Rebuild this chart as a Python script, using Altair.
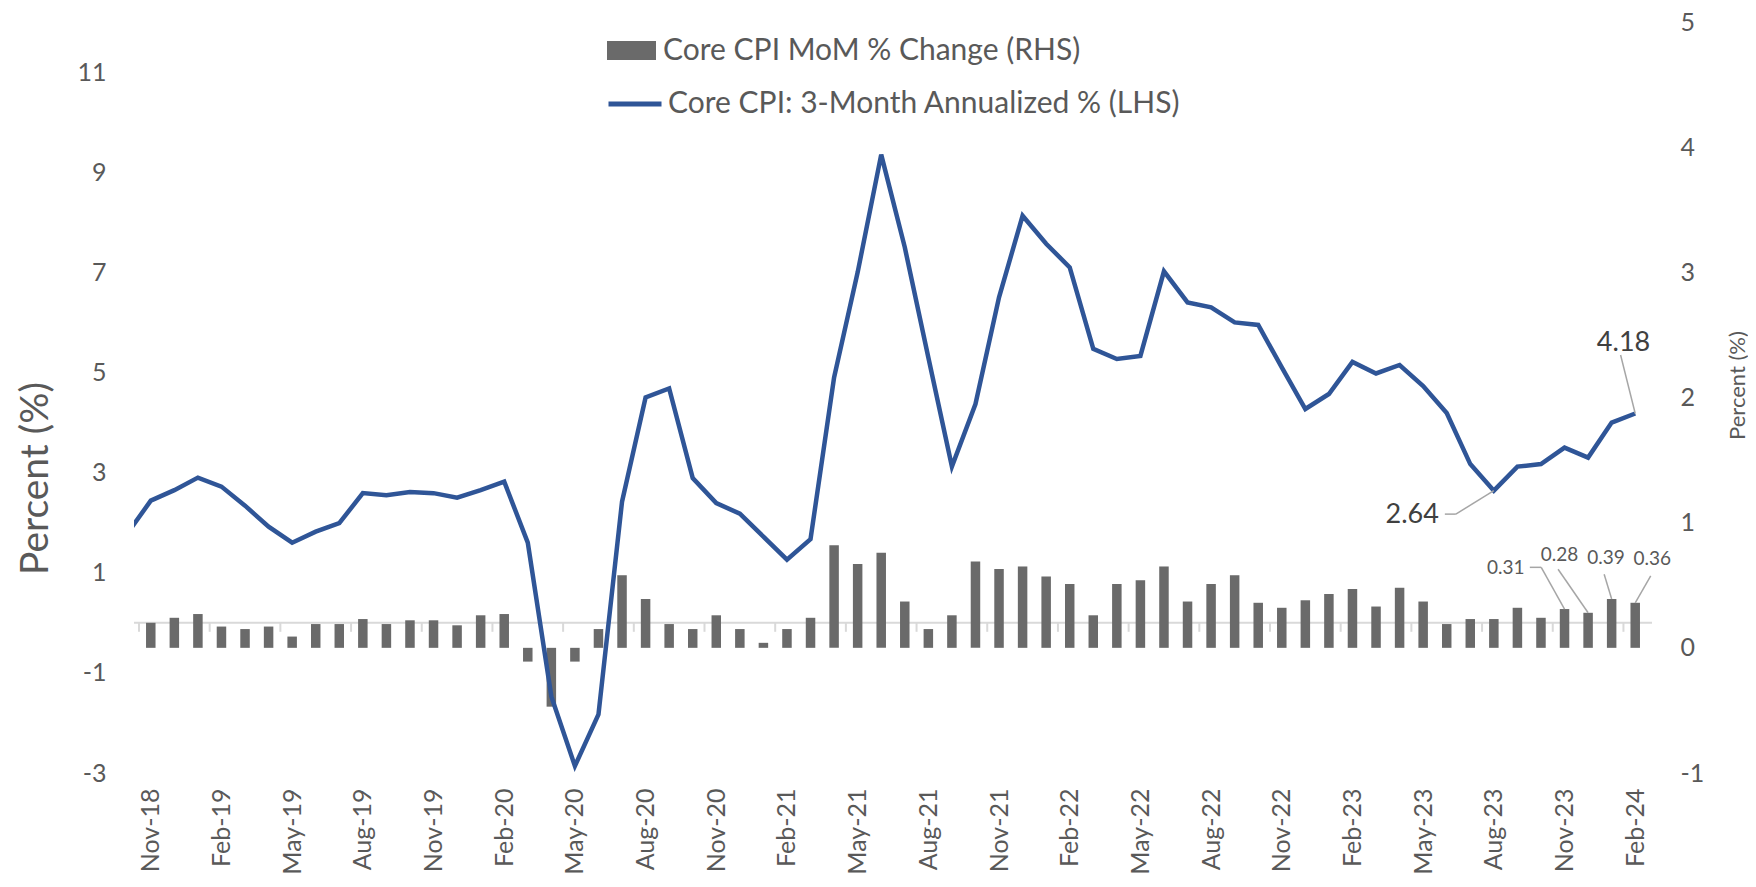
import json
import altair as alt
import pandas as pd

# ---------------- data ----------------
MONTHS = list(pd.date_range("2018-11-01", periods=64, freq="MS").strftime("%b-%y"))
PRE_MONTH = "Oct-18"          # previous month, only its segment toward Nov-18 is visible
PRE_LINE_VALUE = 1.78

BAR_NAME = "Core CPI MoM % Change (RHS)"
LINE_NAME = "Core CPI: 3-Month Annualized % (LHS)"

MOM = [0.20, 0.24, 0.27, 0.17, 0.15, 0.17, 0.09, 0.19, 0.19, 0.23, 0.19, 0.22, 0.22, 0.18, 0.26, 0.27,
       -0.11, -0.47, -0.11, 0.15, 0.58, 0.39, 0.19, 0.15, 0.26, 0.15, 0.04, 0.15, 0.24, 0.82, 0.67, 0.76,
       0.37, 0.15, 0.26, 0.69, 0.63, 0.65, 0.57, 0.51, 0.26, 0.51, 0.54, 0.65, 0.37, 0.51, 0.58, 0.36,
       0.32, 0.38, 0.43, 0.47, 0.33, 0.48, 0.37, 0.19, 0.23, 0.23, 0.32, 0.24, 0.31, 0.28, 0.39, 0.36]

CPI3M = [2.44, 2.65, 2.90, 2.72, 2.34, 1.92, 1.60, 1.82, 1.99, 2.59, 2.55, 2.61, 2.59, 2.50, 2.65, 2.82,
         1.60, -1.47, -2.86, -1.83, 2.42, 4.50, 4.68, 2.89, 2.39, 2.18, 1.72, 1.26, 1.67, 4.90, 7.00, 9.35,
         7.50, 5.30, 3.12, 4.37, 6.50, 8.13, 7.57, 7.10, 5.47, 5.27, 5.33, 7.02, 6.40, 6.30, 6.00, 5.95,
         5.10, 4.27, 4.57, 5.21, 4.98, 5.15, 4.73, 4.19, 3.17, 2.64, 3.12, 3.17, 3.50, 3.30, 4.00, 4.18]

TICK_LABELS = MONTHS[::3]
LEFT_TICKS = [-3, -1, 1, 3, 5, 7, 9, 11]
RIGHT_TICKS = [-1, 0, 1, 2, 3, 4, 5]

bars_df = pd.DataFrame({"i": list(range(64)), "month": MONTHS, "mom": MOM,
                        "zero": 0.0, "series": BAR_NAME})
line_df = pd.DataFrame({"i": list(range(-1, 64)), "month": [PRE_MONTH] + MONTHS,
                        "cpi": [PRE_LINE_VALUE] + CPI3M, "series": LINE_NAME})
zero_df = pd.DataFrame({"v": [0.0]})
ticks_df = pd.DataFrame({"i": [k * 3 - 0.5 for k in range(22)], "v": 0.0})

# ---------------- style ----------------
FONT = "Lato"
GRAY_TXT = "#595959"
BAR_COLOR = "#6A6A6A"
LINE_COLOR = "#2F5597"
LEADER = "#A6A6A6"

X_SCALE = alt.Scale(domain=[-0.5, 63.5], nice=False, zero=False)
LEFT = alt.Scale(domain=[-3, 12], nice=False, zero=False)
RIGHT = alt.Scale(domain=[-1, 5], nice=False, zero=False)

x_axis = alt.Axis(values=list(range(0, 64, 3)),
                  labelExpr=json.dumps(TICK_LABELS) + "[round(datum.value / 3)]",
                  labelAngle=270, labelAlign="right", labelBaseline="middle",
                  labelFontSize=25, labelColor=GRAY_TXT, labelFont=FONT, labelPadding=15,
                  labelOverlap=False, domain=False, ticks=False, grid=False, title=None)


def X(field="i"):
    return alt.X(f"{field}:Q", scale=X_SCALE, axis=x_axis, title=None)


left_axis = alt.Axis(values=LEFT_TICKS, labelExpr="'' + datum.value",
                     domain=False, ticks=False, grid=False,
                     labelFontSize=25, labelColor=GRAY_TXT, labelFont=FONT, labelPadding=28,
                     title="Percent (%)", titleFontSize=39, titleFontWeight="normal",
                     titleColor=GRAY_TXT, titleFont=FONT, titleAngle=270,
                     titleX=-99, titleY=456, titleAlign="center", titleBaseline="middle")

right_axis = alt.Axis(orient="right", values=RIGHT_TICKS, labelExpr="'' + datum.value",
                      domain=False, ticks=False, grid=False,
                      labelFontSize=25, labelColor=GRAY_TXT, labelFont=FONT, labelPadding=28,
                      title="Percent (%)", titleFontSize=22, titleFontWeight="normal",
                      titleColor=GRAY_TXT, titleFont=FONT, titleAngle=270,
                      titleX=85, titleY=363, titleAlign="center", titleBaseline="middle")

# ---------------- layers ----------------
zero_line = alt.Chart(zero_df).mark_rule(color="#D9D9D9", strokeWidth=2).encode(
    y=alt.Y("v:Q", scale=LEFT, axis=None))

ticks = alt.Chart(ticks_df).mark_rule(color="#D9D9D9", strokeWidth=2, y2Offset=9).encode(
    x=X(), y=alt.Y("v:Q", scale=LEFT, axis=None), y2="v:Q")

bars = alt.Chart(bars_df).mark_bar(size=9.5).encode(
    x=X(),
    y=alt.Y("mom:Q", scale=RIGHT, axis=right_axis),
    y2="zero:Q",
    fill=alt.Fill("series:N", scale=alt.Scale(domain=[BAR_NAME], range=[BAR_COLOR]),
                  legend=alt.Legend(orient="none", legendX=473, legendY=4, title=None,
                                    symbolType="M-1,-0.39H1V0.39H-1Z", symbolSize=2401,
                                    symbolStrokeWidth=0, labelFontSize=30, labelFont=FONT,
                                    labelColor=GRAY_TXT, labelOffset=7, padding=0,
                                    labelLimit=0)),
)

line = alt.Chart(line_df).mark_line(strokeWidth=4.5, clip=True).encode(
    x=X(),
    y=alt.Y("cpi:Q", scale=LEFT, axis=left_axis),
    stroke=alt.Stroke("series:N", scale=alt.Scale(domain=[LINE_NAME], range=[LINE_COLOR]),
                      legend=alt.Legend(orient="none", legendX=472, legendY=53, title=None,
                                        symbolType="stroke", symbolSize=2809,
                                        symbolStrokeWidth=5, labelFontSize=30, labelFont=FONT,
                                        labelColor=GRAY_TXT, labelOffset=4, padding=0,
                                        labelLimit=0)),
)


def leader(df, idx, field, scale, segs):
    out = []
    for (a, b, c, d) in segs:
        out.append(alt.Chart(df).transform_filter(alt.datum.i == idx).mark_rule(
            color=LEADER, strokeWidth=1.5, xOffset=a, yOffset=b, x2Offset=c, y2Offset=d).encode(
            x=X(), y=alt.Y(f"{field}:Q", scale=scale, axis=None),
            x2=alt.X2("i:Q"), y2=alt.Y2(f"{field}:Q")))
    return out


def label(df, idx, field, scale, dx, dy, align, size, color):
    return alt.Chart(df).transform_filter(alt.datum.i == idx).mark_text(
        dx=dx, dy=dy, align=align, baseline="middle", fontSize=size, font=FONT, color=color).encode(
        x=X(), y=alt.Y(f"{field}:Q", scale=scale, axis=None),
        text=alt.Text(f"{field}:Q", format=".2f"))


ann = []
# line labels
ann += leader(line_df, 57, "cpi", LEFT, [(0, 0, -38, 23.5), (-38, 23.5, -49, 23.5)])
ann.append(label(line_df, 57, "cpi", LEFT, -55, 24.5, "right", 27, "#404040"))
ann += leader(line_df, 63, "cpi", LEFT, [(0, 0, -14.6, -58.5)])
ann.append(label(line_df, 63, "cpi", LEFT, -11.7, -70.5, "center", 27, "#404040"))
# bar labels
ann += leader(bars_df, 60, "mom", RIGHT, [(0, 0, -23.3, -41.7), (-23.3, -41.7, -34.7, -41.7)])
ann.append(label(bars_df, 60, "mom", RIGHT, -40, -41, "right", 19, GRAY_TXT))
ann += leader(bars_df, 61, "mom", RIGHT, [(0, 0, -30, -43.5)])
ann.append(label(bars_df, 61, "mom", RIGHT, -28.5, -58, "center", 19, GRAY_TXT))
ann += leader(bars_df, 62, "mom", RIGHT, [(0, 0, -7.5, -24.7)])
ann.append(label(bars_df, 62, "mom", RIGHT, -5.7, -41, "center", 19, GRAY_TXT))
ann += leader(bars_df, 63, "mom", RIGHT, [(0, 0, 15.5, -26.8)])
ann.append(label(bars_df, 63, "mom", RIGHT, 17, -43.3, "center", 19, GRAY_TXT))

chart = alt.layer(zero_line, ticks, bars, line, *ann).resolve_scale(
    y="independent"
).properties(
    width=1518, height=751,
    padding={"left": 126, "top": 14, "right": 96, "bottom": 101},
    autosize=alt.AutoSizeParams(type="none"),
).configure(
    background="white", font=FONT
).configure_view(
    stroke=None, strokeWidth=0
).configure_axis(
    domain=False, ticks=False, grid=False
)

chart.save("out.html", embed_options={"renderer": "svg", "actions": False})
